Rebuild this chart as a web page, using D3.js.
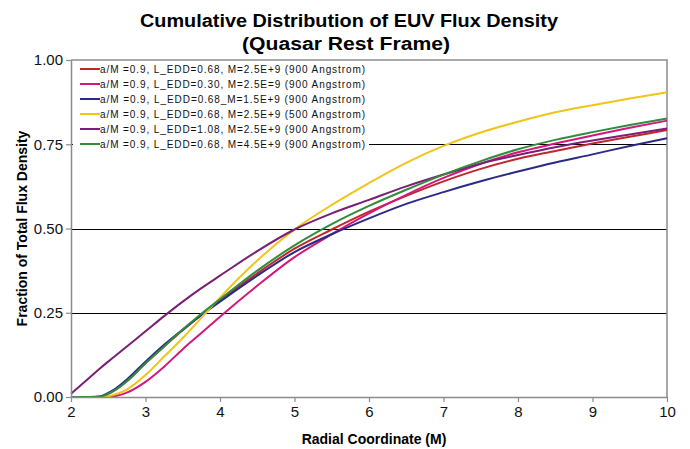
<!DOCTYPE html>
<html>
<head>
<meta charset="utf-8">
<script src="https://cdn.jsdelivr.net/npm/d3@7"></script>
<style>
  html, body { margin: 0; padding: 0; background: #fff; }
  svg { display: block; }
</style>
</head>
<body>
<svg id="chart" width="690" height="449"></svg>
<script>
// ---------------- data ----------------
const radius = [2, 2.25, 2.4, 2.5, 2.6, 2.75, 3, 3.25, 3.5, 3.75, 4, 4.5, 5, 5.5, 6, 6.5, 7, 7.5, 8, 8.5, 9, 9.5, 10];

const seriesNames = [
  "a/M =0.9, L_EDD=0.68, M=2.5E+9 (900 Angstrom)",
  "a/M =0.9, L_EDD=0.30, M=2.5E=9 (900 Angstrom)",
  "a/M =0.9, L_EDD=0.68_M=1.5E+9 (900 Angstrom)",
  "a/M =0.9, L_EDD=0.68, M=2.5E+9 (500 Angstrom)",
  "a/M =0.9, L_EDD=1.08, M=2.5E+9 (900 Angstrom)",
  "a/M =0.9, L_EDD=0.68, M=4.5E+9 (900 Angstrom)"
];

const red900 =    [0, 0, 0, 0.009, 0.022, 0.047, 0.100, 0.150, 0.198, 0.245, 0.287, 0.367, 0.440, 0.497, 0.550, 0.597, 0.640, 0.677, 0.707, 0.730, 0.752, 0.772, 0.792];
const pinkLow =   [0, 0, 0, 0, 0.003, 0.013, 0.045, 0.090, 0.142, 0.190, 0.238, 0.330, 0.415, 0.483, 0.545, 0.600, 0.650, 0.692, 0.726, 0.752, 0.776, 0.799, 0.820];
const blueMass =  [0, 0, 0.002, 0.012, 0.025, 0.052, 0.105, 0.155, 0.200, 0.243, 0.283, 0.360, 0.430, 0.483, 0.530, 0.573, 0.608, 0.640, 0.669, 0.696, 0.720, 0.745, 0.768];
const yellow500 = [0, 0, 0, 0.002, 0.008, 0.022, 0.065, 0.120, 0.175, 0.235, 0.295, 0.405, 0.497, 0.570, 0.635, 0.695, 0.745, 0.785, 0.817, 0.845, 0.866, 0.886, 0.904];
const purpleHigh =[0.010, 0.058, 0.087, 0.105, 0.123, 0.150, 0.195, 0.240, 0.283, 0.323, 0.360, 0.433, 0.497, 0.545, 0.585, 0.625, 0.660, 0.693, 0.718, 0.741, 0.761, 0.779, 0.797];
const greenMass = [0, 0, 0.001, 0.010, 0.022, 0.047, 0.100, 0.150, 0.200, 0.247, 0.290, 0.375, 0.450, 0.513, 0.567, 0.615, 0.660, 0.700, 0.735, 0.763, 0.786, 0.807, 0.826];

const seriesColors = ["#c0272d", "#d4177d", "#2c2a86", "#f0c419", "#7a1f74", "#2f8d3b"];

const xTicks = [2, 3, 4, 5, 6, 7, 8, 9, 10];
const yTicks = [0, 0.25, 0.5, 0.75, 1.0];

const titleLine1 = "Cumulative Distribution of EUV Flux Density";
const titleLine2 = "(Quasar Rest Frame)";
const xLabel = "Radial Coordinate (M)";
const yLabel = "Fraction of Total Flux Density";

// -------------- drawing --------------
const seriesValues = [red900, pinkLow, blueMass, yellow500, purpleHigh, greenMass];
const series = seriesNames.map((name, i) => ({
  name, color: seriesColors[i],
  points: radius.map((r, j) => ({ x: r, y: seriesValues[i][j] }))
}));

const svg = d3.select("#chart");
const W = 690, H = 449;
const m = { left: 71, right: 23, top: 60, bottom: 52 };
const pw = W - m.left - m.right, ph = H - m.top - m.bottom;

const x = d3.scaleLinear().domain([2, 10]).range([m.left, m.left + pw]);
const y = d3.scaleLinear().domain([0, 1]).range([m.top + ph, m.top]);

const fontMain = "'Liberation Sans', Arial, sans-serif";
const fontNarrow = "'Liberation Sans Narrow', 'Arial Narrow', 'Liberation Sans', sans-serif";

// gridlines
svg.append("g").selectAll("line")
  .data(yTicks.filter(t => t > 0 && t < 1))
  .join("line")
  .attr("x1", m.left).attr("x2", m.left + pw)
  .attr("y1", d => Math.round(y(d)) + 0.5).attr("y2", d => Math.round(y(d)) + 0.5)
  .attr("stroke", "#000").attr("stroke-width", 1);

// plot border (top & right)
svg.append("path")
  .attr("d", `M${m.left},${m.top}H${m.left + pw}V${m.top + ph}`)
  .attr("fill", "none").attr("stroke", "#8c8c8c").attr("stroke-width", 1.5);

// lines
const line = d3.line().x(d => x(d.x)).y(d => y(d.y)).curve(d3.curveMonotoneX);
svg.append("g").selectAll("path")
  .data(series)
  .join("path")
  .attr("d", d => line(d.points))
  .attr("fill", "none")
  .attr("stroke", d => d.color)
  .attr("stroke-width", 2);

// axes
const xAxis = svg.append("g")
  .attr("transform", `translate(0,${m.top + ph})`)
  .call(d3.axisBottom(x).tickValues(xTicks).tickFormat(d3.format("d")).tickSizeInner(5).tickSizeOuter(0).tickPadding(4));
const yAxis = svg.append("g")
  .attr("transform", `translate(${m.left},0)`)
  .call(d3.axisLeft(y).tickValues(yTicks).tickFormat(d3.format(".2f")).tickSizeInner(5).tickSizeOuter(0).tickPadding(3));

[xAxis, yAxis].forEach(a => {
  a.select(".domain").attr("stroke", "#8c8c8c").attr("stroke-width", 1.5);
  a.selectAll(".tick line").attr("stroke", "#8c8c8c").attr("stroke-width", 1.2);
  a.selectAll(".tick text").attr("fill", "#111").style("font-family", fontNarrow).style("font-size", "15px");
});

// legend
const lg = svg.append("g");
lg.append("rect").attr("x", m.left + 2).attr("y", m.top + 1).attr("width", 296).attr("height", 90).attr("fill", "#fff");
const rows = lg.selectAll("g.row").data(series).join("g").attr("class", "row")
  .attr("transform", (d, i) => `translate(0,${69 + i * 15})`);
rows.append("line").attr("x1", 80).attr("x2", 100).attr("y1", 0).attr("y2", 0)
  .attr("stroke", d => d.color).attr("stroke-width", 2);
rows.append("text").attr("x", 100).attr("y", 3.5)
  .attr("textLength", 265).attr("lengthAdjust", "spacing")
  .style("font-family", fontMain).style("font-size", "10px").attr("fill", "#111")
  .text(d => d.name);

// titles
svg.append("text").attr("x", 349).attr("y", 27).attr("text-anchor", "middle")
  .style("font-family", fontMain).style("font-size", "18px").style("font-weight", "bold")
  .attr("textLength", 418).attr("lengthAdjust", "spacingAndGlyphs")
  .text(titleLine1);
svg.append("text").attr("x", 346).attr("y", 50).attr("text-anchor", "middle")
  .style("font-family", fontMain).style("font-size", "18px").style("font-weight", "bold")
  .attr("textLength", 208).attr("lengthAdjust", "spacingAndGlyphs")
  .text(titleLine2);

svg.append("text").attr("x", 374).attr("y", 444).attr("text-anchor", "middle")
  .style("font-family", fontMain).style("font-size", "14px").style("font-weight", "bold")
  .text(xLabel);

svg.append("text").attr("transform", `translate(27,${m.top + ph / 2}) rotate(-90)`)
  .attr("text-anchor", "middle")
  .style("font-family", fontMain).style("font-size", "14px").style("font-weight", "bold")
  .text(yLabel);
</script>
</body>
</html>
